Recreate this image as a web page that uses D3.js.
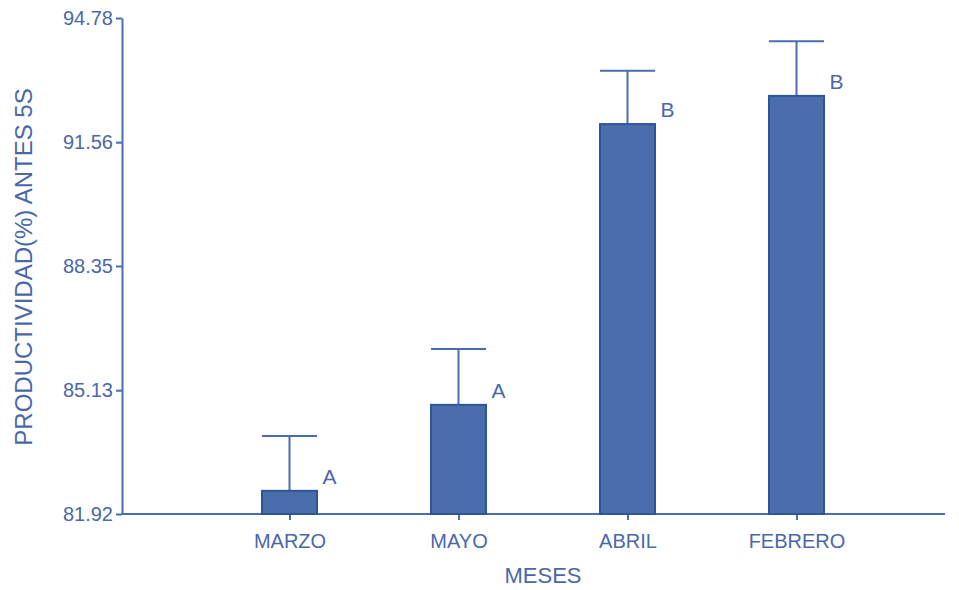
<!DOCTYPE html>
<html>
<head>
<meta charset="utf-8">
<script src="https://cdn.jsdelivr.net/npm/d3@7"></script>
<style>
  body { margin: 0; background: #fff; }
  svg text { font-family: "Liberation Sans", Arial, sans-serif; fill: #4a68a8; }
</style>
</head>
<body>
<div id="chart"></div>
<script>
// Data
const months = ['MARZO', 'MAYO', 'ABRIL', 'FEBRERO'];
const means = [82.52, 84.75, 92.03, 92.76];
const upper = [83.94, 86.20, 93.41, 94.18];
const groups = ['A', 'A', 'B', 'B'];
const yTicks = [81.92, 85.13, 88.35, 91.56, 94.78];

const width = 959, height = 590;
const axisColor = '#4a6cb0';
const barFill = '#4a6eab';
const barStroke = '#2f5599';

const svg = d3.select('#chart').append('svg')
    .attr('width', width)
    .attr('height', height);

const y = d3.scaleLinear().domain([81.92, 94.78]).range([514, 18]);
const x = d3.scalePoint().domain(months).range([205, 881]).padding(0.5);
const barW = 55;

// y axis
const yAxis = svg.append('g')
    .attr('transform', 'translate(122,0)')
    .call(d3.axisLeft(y).tickValues(yTicks).tickFormat(d3.format('.2f')).tickSize(6).tickSizeOuter(0));
yAxis.select('.domain').attr('stroke', axisColor).attr('stroke-width', 2);
yAxis.selectAll('.tick line').attr('stroke', axisColor).attr('stroke-width', 2);
yAxis.selectAll('.tick text')
    .attr('font-size', 20)
    .attr('x', -9)
    .attr('fill', '#4a68a8')
    .style('font-family', '"Liberation Sans", Arial, sans-serif');

// x axis
const xAxis = svg.append('g')
    .attr('transform', 'translate(0,514)')
    .call(d3.axisBottom(x).tickSize(6).tickSizeOuter(0));
xAxis.select('.domain').attr('d', 'M122,0H945').attr('stroke', axisColor).attr('stroke-width', 2);
xAxis.selectAll('.tick line').attr('stroke', axisColor).attr('stroke-width', 2);
xAxis.selectAll('.tick text')
    .attr('font-size', 20)
    .attr('y', 34)
    .attr('dy', 0)
    .attr('fill', '#4a68a8')
    .style('font-family', '"Liberation Sans", Arial, sans-serif');

const data = months.map((m, i) => ({ m, mean: means[i], up: upper[i], g: groups[i] }));

// error bars
const err = svg.append('g');
err.selectAll('line.stem')
    .data(data).join('line')
    .attr('class', 'stem')
    .attr('x1', d => x(d.m)).attr('x2', d => x(d.m))
    .attr('y1', d => y(d.mean)).attr('y2', d => y(d.up))
    .attr('stroke', axisColor).attr('stroke-width', 2);
err.selectAll('line.cap')
    .data(data).join('line')
    .attr('class', 'cap')
    .attr('x1', d => x(d.m) - barW / 2).attr('x2', d => x(d.m) + barW / 2)
    .attr('y1', d => y(d.up)).attr('y2', d => y(d.up))
    .attr('stroke', axisColor).attr('stroke-width', 2);

// bars
svg.append('g').selectAll('rect')
    .data(data).join('rect')
    .attr('x', d => x(d.m) - barW / 2)
    .attr('y', d => y(d.mean))
    .attr('width', barW)
    .attr('height', d => y(81.92) - y(d.mean))
    .attr('fill', barFill)
    .attr('stroke', barStroke)
    .attr('stroke-width', 2);

// group letters
svg.append('g').selectAll('text')
    .data(data).join('text')
    .attr('x', d => x(d.m) + 40)
    .attr('y', d => y(d.mean) - 7)
    .attr('text-anchor', 'middle')
    .attr('font-size', 21)
    .text(d => d.g);

// axis titles
svg.append('text')
    .attr('x', 543).attr('y', 583)
    .attr('text-anchor', 'middle')
    .attr('font-size', 22)
    .text('MESES');

svg.append('text')
    .attr('transform', 'translate(32,267) rotate(-90)')
    .attr('text-anchor', 'middle')
    .attr('font-size', 24)
    .text('PRODUCTIVIDAD(%) ANTES 5S');
</script>
</body>
</html>
